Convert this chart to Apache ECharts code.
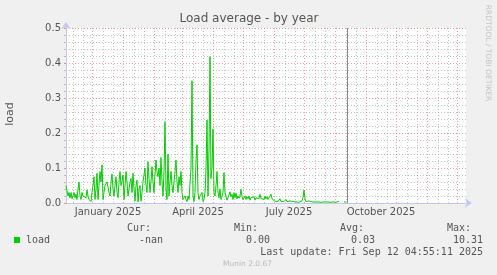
<!DOCTYPE html>
<html><head><meta charset="utf-8">
<script src="https://cdn.jsdelivr.net/npm/echarts@6/dist/echarts.min.js"></script>
<style>html,body{margin:0;padding:0;background:#f0f0f0}#c{width:497px;height:275px}</style>
</head><body><div id="c"></div>
<script>
// ---- data ----
const startDate = '2024-11-05';           // first day of the plotted 400-day window
const spanDays = 400;
// daily load values from startDate (null = no data)
const loadValues = [
0.05,0.05,0.02,0.03,0.015,0.03,0.012,0.02,0.03,0.015,
0.025,0.01,0.04,0.06,0.02,0.01,0.03,0.02,0.025,0.02,
0.015,0.037,0.02,0.01,0.008,0.004,0.03,0.05,0.075,0.01,
0.04,0.085,0.01,0.05,0.09,0.06,0.109,0.01,0.03,0.05,
0.055,0.06,0.045,0.03,0.02,0.06,0.083,0.04,0.02,0.05,
0.075,0.03,0.015,0.06,0.09,0.05,0.06,0.08,0.01,0.05,
0.09,0.06,0.02,0.04,0.06,0.07,0.03,0.085,0.04,0.005,
0.05,0.065,0.003,0.04,0.05,0.005,0.03,0.06,0.08,0.1,
0.05,0.03,0.118,0.07,0.03,0.06,0.104,0.06,0.03,0.08,
0.123,0.09,0.075,0.1,0.05,0.13,0.06,0.02,0.09,0.232,
0.04,0.01,0.14,0.02,0.06,0.09,0.05,0.03,0.06,0.09,
0.123,0.06,0.03,0.075,0.05,0.09,0.03,0.01,0.005,0.02,
0.01,0.004,0.02,0.01,0.005,0.1,0.349,0.02,0.004,0.03,
0.12,0.166,0.03,0.01,0.02,0.015,0.03,0.004,0.01,0.03,
0.1,0.237,0.02,0.15,0.418,0.07,0.1,0.211,0.03,0.02,
0.05,0.09,0.03,0.015,0.04,0.01,0.005,0.03,0.087,0.03,
0.02,0.008,0.015,0.023,0.032,0.018,0.025,0.01,0.03,0.015,
0.028,0.012,0.02,0.014,0.02,0.039,0.018,0.01,0.015,0.02,
0.01,0.018,0.012,0.02,0.008,0.015,0.02,0.01,0.018,0.008,
0.015,0.01,0.02,0.012,0.025,0.013,0.008,0.015,0.01,0.02,
0.012,0.018,0.01,0.012,0.008,0.025,0.012,0.008,0.01,0.005,
0.003,0.005,0.004,0.008,0.012,0.004,0.003,0.008,0.004,0.003,
0.01,0.004,0.002,0.003,0.006,0.003,0.002,0.004,0.003,0.002,
0.003,0.006,0.003,0.002,0.004,0.003,0.006,0.015,0.037,0.012,
0.004,0.003,0.005,0.006,0.003,0.004,0.003,0.002,0.004,0.003,
0.005,0.002,0.003,0.004,0.003,0.002,0.003,0.002,0.003,0.004,
0.002,0.003,0.002,0.003,0.002,0.003,0.002,0.003,0.002,0.003,
0.002,0.003,0.004,0.005,null,null,null,null,0.003,0.006,
0.003
];
const monthLines = ['2024-11-01','2024-12-01','2025-01-01','2025-02-01','2025-03-01','2025-04-01','2025-05-01',
  '2025-06-01','2025-07-01','2025-08-01','2025-09-01','2025-10-01','2025-11-01','2025-12-01'];
const minorDaysOfMonth = [12, 22];
const labelMonths = ['2025-01-01','2025-04-01','2025-07-01','2025-10-01'];
const tickLabels = ['January 2025','April 2025','July 2025','October 2025'];
const markerDate = '2025-08-13';
const yTicks = [0, 0.1, 0.2, 0.3, 0.4, 0.5];
const legendHead = ['Cur:', 'Min:', 'Avg:', 'Max:'];
const legendVals = ['-nan', '0.00', '0.03', '10.31'];
const seriesName = 'load';
const lastUpdate = 'Last update: Fri Sep 12 04:55:11 2025';

// ---- helpers ----
const DAY = 86400000;
const dayOf = s => Math.round((Date.parse(s) - Date.parse(startDate)) / DAY);
const labelAt = {};
labelMonths.forEach((m, i) => { labelAt[dayOf(m) - 15] = tickLabels[i]; });
const minorLines = [];
monthLines.forEach(m => minorDaysOfMonth.forEach(dd => {
  const d = dayOf(m) + dd - 1;
  if (d > 0 && d < spanDays) minorLines.push(d);
}));
const majorLines = monthLines.map(dayOf).filter(d => d > 0 && d < spanDays);

const seriesData = loadValues.map((v, i) => [i, v]);
const gridLeft = 66, gridTop = 28, gridW = 400, gridH = 175;
const mono = 'DejaVu Sans Mono';
const txt = '#555';

const chart = echarts.init(document.getElementById('c'), null, {renderer: 'canvas'});
const gfx = [];
function t(text, x, y, opt) {
  gfx.push(Object.assign({type: 'text', x, y, silent: true,
    style: Object.assign({text, fill: txt, font: '10px ' + mono, textAlign: 'left', textVerticalAlign: 'middle'}, opt || {})}));
}
t('Load average - by year', 249, 19, {font: '12px "DejaVu Sans"', textAlign: 'center'});
gfx.push({type: 'text', x: 10.5, y: 114, rotation: Math.PI / 2, silent: true,
  style: {text: 'load', fill: txt, font: '11px "DejaVu Sans"', textAlign: 'center', textVerticalAlign: 'middle'}});
gfx.push({type: 'text', x: 488, y: 53, rotation: -Math.PI / 2, silent: true,
  style: {text: 'RRDTOOL / TOBI OETIKER', fill: '#c4c4c4', font: '7.5px "DejaVu Sans"', textAlign: 'center', textVerticalAlign: 'middle'}});
const headX = [127, 234, 340, 447];
legendHead.forEach((h, i) => t(h, headX[i], 228));
gfx.push({type: 'rect', silent: true, shape: {x: 14, y: 237, width: 6, height: 6}, style: {fill: '#00cc00'}});
t(seriesName, 26, 240);
const valRight = [163, 270, 375, 483];
legendVals.forEach((v, i) => t(v, valRight[i], 240, {textAlign: 'right'}));
t(lastUpdate, 483, 252, {textAlign: 'right'});
t('Munin 2.0.67', 247.5, 264, {font: '7.5px "DejaVu Sans"', fill: '#bbb', textAlign: 'center'});

const gridLineStyle = {color: 'rgba(150,150,150,0.55)', type: [1, 2], width: 1};
const majorStyle = {color: 'rgba(235,80,80,0.55)', type: [1, 2], width: 1};

chart.setOption({
  animation: false,
  backgroundColor: '#f0f0f0',
  grid: {left: gridLeft, top: gridTop, width: gridW, height: gridH, show: true, backgroundColor: '#fff', borderWidth: 0},
  xAxis: {
    type: 'value', min: 0, max: spanDays, interval: 1,
    axisLine: {show: true, onZero: false, lineStyle: {color: '#c6c6f2'}, symbol: ['none', 'arrow'], symbolSize: [7, 7], symbolOffset: [0, 6]},
    axisTick: {show: false}, splitLine: {show: false},
    axisLabel: {formatter: v => labelAt[v] || '', color: txt, fontSize: 10, fontFamily: 'DejaVu Sans', margin: 4, showMinLabel: true, showMaxLabel: true}
  },
  yAxis: {
    type: 'value', min: yTicks[0], max: yTicks[yTicks.length - 1], interval: 0.1,
    axisLine: {show: true, lineStyle: {color: '#c6c6f2'}, symbol: ['none', 'arrow'], symbolSize: [7, 7], symbolOffset: [0, 6]},
    axisTick: {show: true, length: 2, lineStyle: {color: 'rgba(235,80,80,0.6)'}},
    minorTick: {show: true, splitNumber: 5, length: 2, lineStyle: {color: '#bbb'}},
    splitLine: {show: true, lineStyle: majorStyle},
    minorSplitLine: {show: true, lineStyle: gridLineStyle},
    axisLabel: {formatter: v => v.toFixed(1), color: txt, fontSize: 10, fontFamily: 'DejaVu Sans', margin: 5}
  },
  series: [
    {type: 'line', data: [], z: 1, silent: true,
      markLine: {silent: true, symbol: 'none', label: {show: false}, animation: false,
        data: minorLines.map(d => ({xAxis: d, lineStyle: gridLineStyle}))
          .concat(majorLines.map(d => ({xAxis: d, lineStyle: majorStyle})))
          .concat([{xAxis: dayOf(markerDate), lineStyle: {color: '#8a8a8a', type: 'solid', width: 1}}])}},
    {type: 'line', name: seriesName, data: seriesData, z: 3, showSymbol: false, connectNulls: false,
      lineStyle: {color: '#00cc00', width: 1}, itemStyle: {color: '#00cc00'}}
  ],
  graphic: gfx
});
</script></body></html>
